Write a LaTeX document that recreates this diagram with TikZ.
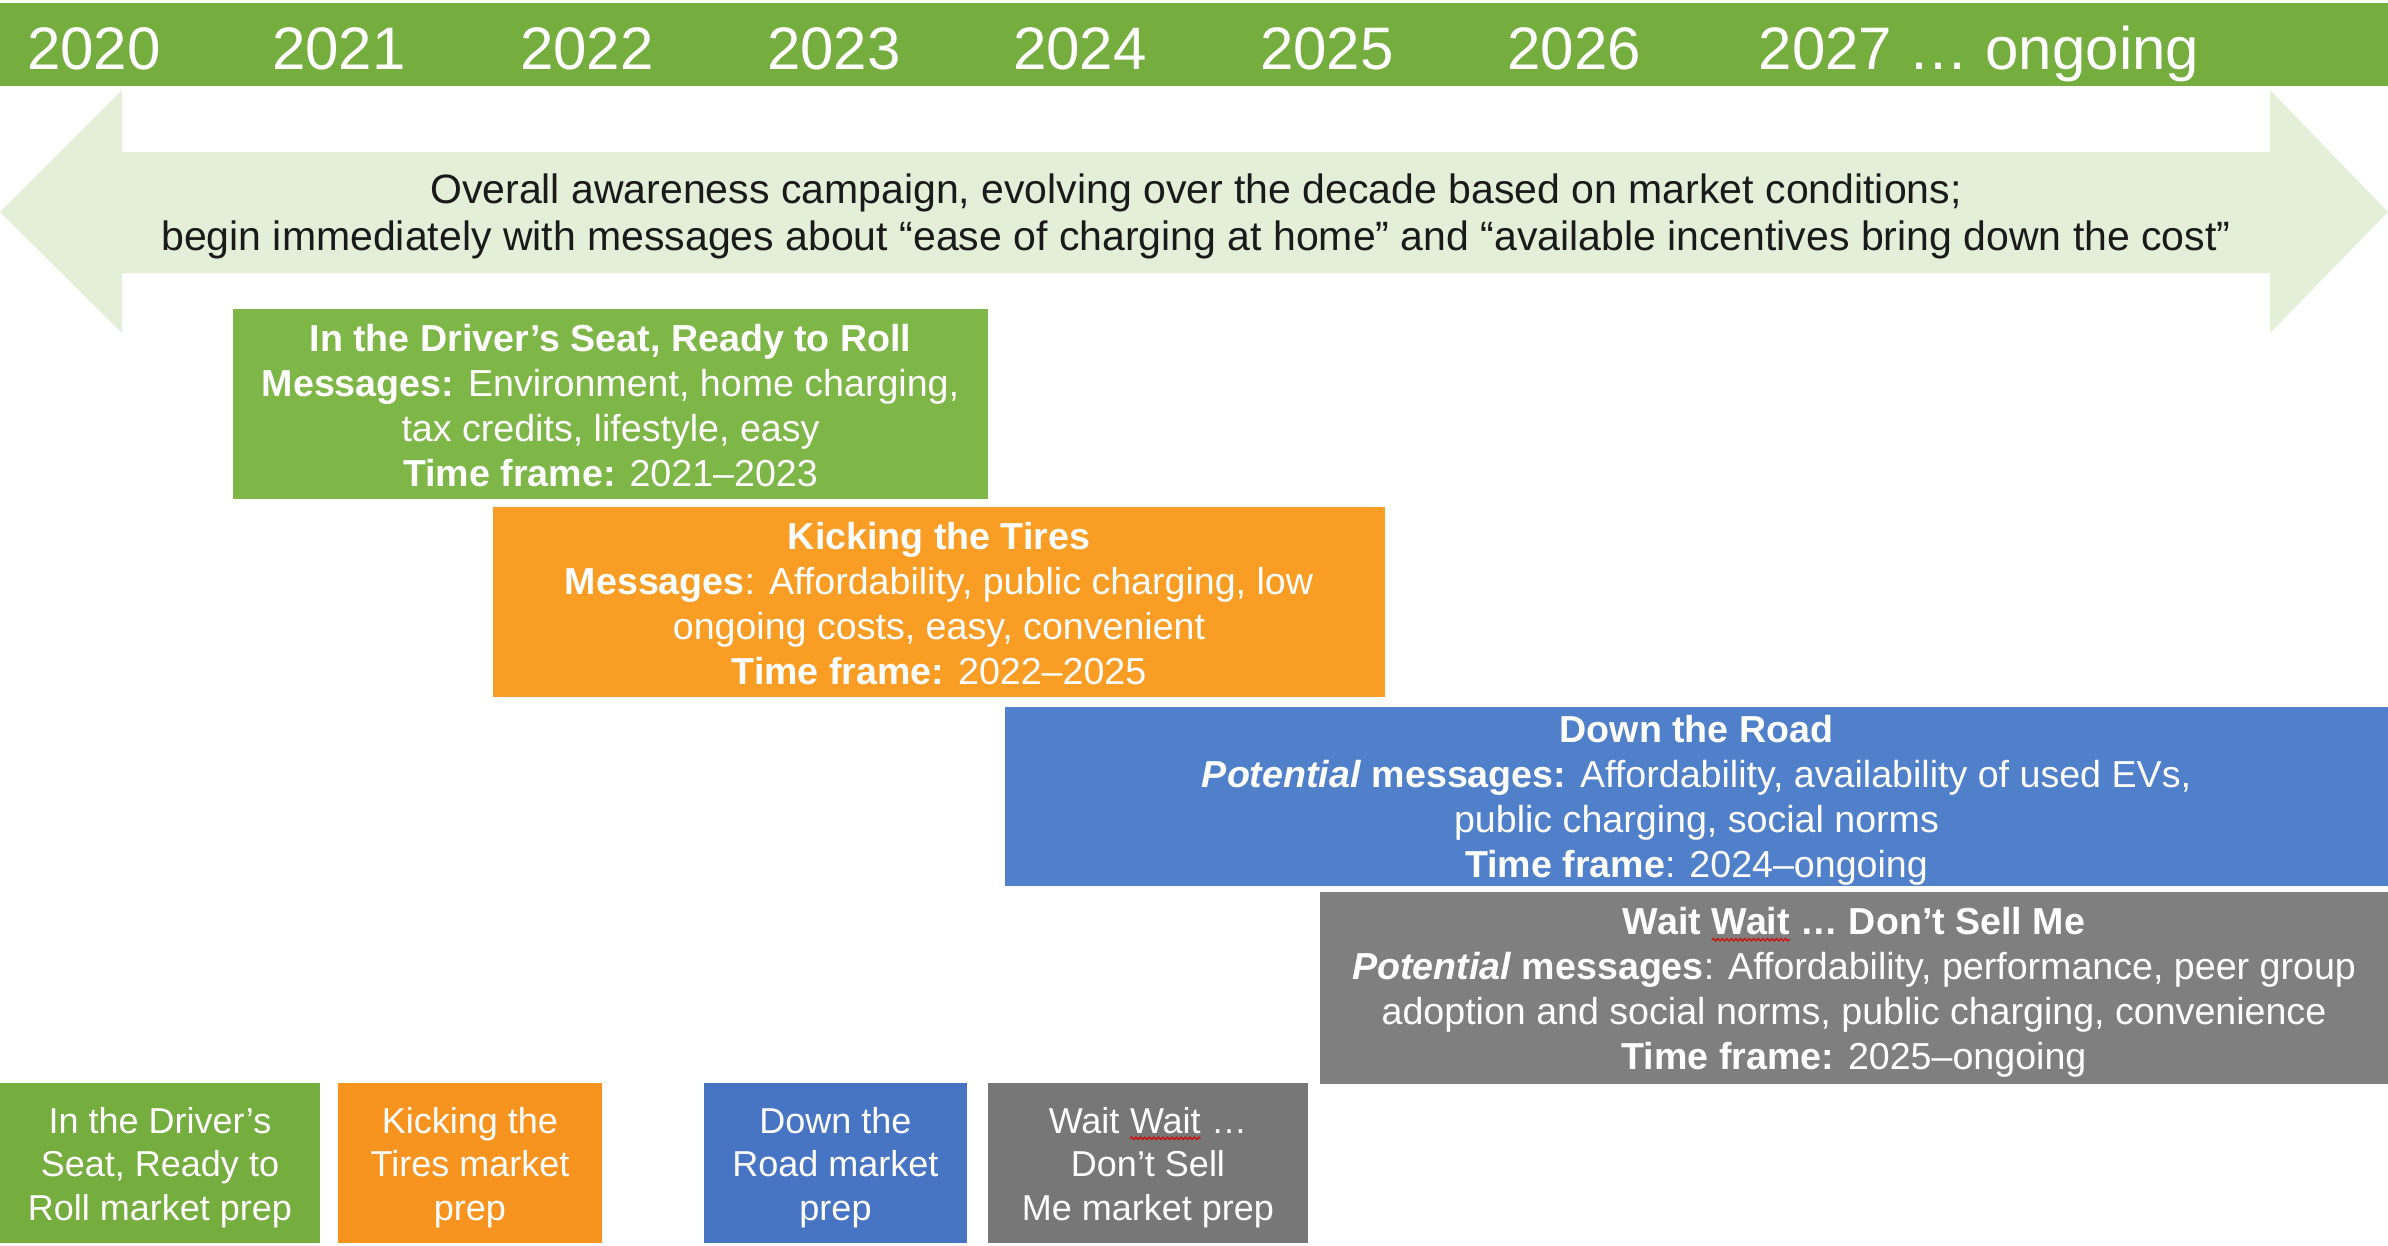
\documentclass[tikz,border=0pt]{standalone}
\usepackage{fontspec}
\setmainfont{Liberation Sans}
\usetikzlibrary{decorations.pathmorphing}
\newcommand\redwave[1]{\tikz[baseline=(wv.base)]{\node[inner sep=0pt, outer sep=0pt, minimum width=0pt, minimum height=0pt, fill=none, draw=none, anchor=base] (wv) at (0,0) {#1};
  \draw[red!85!black, line width=1.1pt, decorate, decoration={snake, amplitude=1.3pt, segment length=4.5pt}] ([yshift=-5pt]wv.base west) -- ([yshift=-5pt]wv.base east);}}
\definecolor{bargreen}{HTML}{75AD3F}
\definecolor{boxgreen}{HTML}{7EB648}
\definecolor{arrowgreen}{HTML}{E3EFD9}
\definecolor{boxorange}{HTML}{F99D25}
\definecolor{boxblue}{HTML}{5080C9}
\definecolor{boxgray}{HTML}{7F7F7F}
\definecolor{prepgreen}{HTML}{76AD3F}
\definecolor{preporange}{HTML}{F7941F}
\definecolor{prepblue}{HTML}{4775C4}
\definecolor{prepgray}{HTML}{777777}
\definecolor{txtdark}{HTML}{1A1A1A}
\begin{document}
\begin{tikzpicture}[x=1pt,y=-1pt,
  boxfill/.style={inner sep=0pt, outer sep=0pt},
  boxtext/.style={inner sep=0pt, outer sep=0pt, text=white, align=center,
    font=\fontsize{37.6}{45}\selectfont},
  preptext/.style={inner sep=0pt, outer sep=0pt, text=white, align=center,
    font=\fontsize{36}{43.5}\selectfont},
  yr/.style={text=white, font=\fontsize{60}{60}\selectfont, inner sep=0pt, anchor=base}
]
\useasboundingbox (0,0) rectangle (2388,1245);
% top bar
\fill[bargreen] (0,3) rectangle (2388,86);
\node[yr] (y20) at (94,69) {2020};
\node[yr] (y21) at (339,69) {2021};
\node[yr] (y22) at (587,69) {2022};
\node[yr] (y23) at (834,69) {2023};
\node[yr] (y24) at (1080,69) {2024};
\node[yr] (y25) at (1327,69) {2025};
\node[yr] (y26) at (1574,69) {2026};
\node[yr] (y27) at (1979,69) {2027 … ongoing};
% double arrow
\fill[arrowgreen] (0,212) -- (122,90) -- (122,152) -- (2270,152) -- (2270,90)
  -- (2388,212) -- (2270,333) -- (2270,273) -- (122,273) -- (122,333) -- cycle;
\node[align=center, text=txtdark, inner sep=0pt, font=\fontsize{41}{47}\selectfont] (aware) at (1196,216)
  {Overall awareness campaign, evolving over the decade based on market conditions;\\
   begin immediately with messages about “ease of charging at home” and “available incentives bring down the cost”};
% phase boxes
\node[boxfill, fill=boxgreen, minimum width=755pt, minimum height=190pt] (b1) at (610.5,404) {};
\node[boxtext] (t1) at ([yshift=-2pt]b1.center)
  {\textbf{In the Driver’s Seat, Ready to Roll}\\
   \textbf{Messages:} Environment, home charging,\\
   tax credits, lifestyle, easy\\
   \textbf{Time frame:} 2021–2023};
\node[boxfill, fill=boxorange, minimum width=892pt, minimum height=190pt] (b2) at (939,602) {};
\node[boxtext] (t2) at ([yshift=-2pt]b2.center)
  {\textbf{Kicking the Tires}\\
   \textbf{Messages}: Affordability, public charging, low\\
   ongoing costs, easy, convenient\\
   \textbf{Time frame:} 2022–2025};
\node[boxfill, fill=boxblue, minimum width=1383pt, minimum height=179pt] (b3) at (1696.5,796.5) {};
\node[boxtext] (t3) at ([yshift=-4pt]b3.center)
  {\textbf{Down the Road}\\
   \textbf{\textit{Potential} messages:} Affordability, availability of used EVs,\\
   public charging, social norms\\
   \textbf{Time frame}: 2024–ongoing};
\node[boxfill, fill=boxgray, minimum width=1068pt, minimum height=192pt] (b4) at (1854,988) {};
\node[boxtext] (t4) at ([yshift=-4.5pt]b4.center)
  {\textbf{Wait \redwave{Wait} … Don’t Sell Me}\\
   \textbf{\textit{Potential} messages}: Affordability, performance, peer group\\
   adoption and social norms, public charging, convenience\\
   \textbf{Time frame:} 2025–ongoing};
% market prep boxes
\node[boxfill, fill=prepgreen, minimum width=320pt, minimum height=160pt] (p1) at (160,1163) {};
\node[preptext] (q1) at ([yshift=-4.5pt]p1.center) {In the Driver’s\\ Seat, Ready to\\ Roll market prep};
\node[boxfill, fill=preporange, minimum width=264pt, minimum height=160pt] (p2) at (470,1163) {};
\node[preptext] (q2) at ([yshift=-4.5pt]p2.center) {Kicking the\\ Tires market\\ prep};
\node[boxfill, fill=prepblue, minimum width=263pt, minimum height=160pt] (p3) at (835.5,1163) {};
\node[preptext] (q3) at ([yshift=-4.5pt]p3.center) {Down the\\ Road market\\ prep};
\node[boxfill, fill=prepgray, minimum width=320pt, minimum height=160pt] (p4) at (1148,1163) {};
\node[preptext] (q4) at ([yshift=-4.5pt]p4.center) {Wait \redwave{Wait} …\\ Don’t Sell\\ Me market prep};
\end{tikzpicture}
\end{document}
